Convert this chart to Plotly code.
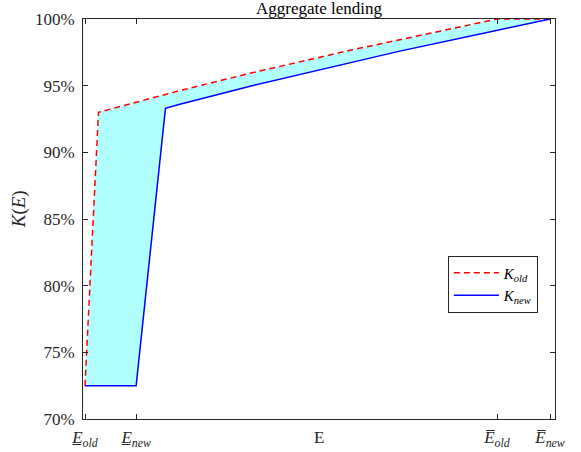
import plotly.graph_objects as go

# Data (x in normalized E units; y in percent)
k_old_x = [0.0, 0.029, 0.204, 0.355, 0.570, 0.677, 0.886, 1.0]
k_old_y = [72.5, 93.0, 94.63, 95.93, 97.65, 98.46, 100.0, 100.0]
k_new_x = [0.0, 0.11, 0.173, 0.204, 0.355, 0.570, 0.677, 0.892, 1.0]
k_new_y = [72.5, 72.5, 93.3, 93.6, 94.96, 96.74, 97.59, 99.2, 100.0]

xtick_vals = [0.0, 0.11, 0.886, 1.0]
xtick_text = ["<i>E\u0332</i><sub><i>old</i></sub>", "<i>E\u0332</i><sub><i>new</i></sub>",
              "<i>E\u0305</i><sub><i>old</i></sub>", "<i>E\u0305</i><sub><i>new</i></sub>"]
ytick_vals = [70, 75, 80, 85, 90, 95, 100]
ytick_text = [f"{v}%" for v in ytick_vals]

FONT = "Liberation Serif"

fig = go.Figure()
fig.add_trace(go.Scatter(
    x=k_old_x + k_new_x[::-1], y=k_old_y + k_new_y[::-1],
    fill="toself", fillcolor="#b2ffff", line=dict(width=0),
    mode="lines", showlegend=False, hoverinfo="skip"))
fig.add_trace(go.Scatter(
    x=k_old_x, y=k_old_y, mode="lines", name="<i>K</i><sub><i>old</i></sub>",
    line=dict(color="#ff0000", width=1.5, dash="6px,4px")))
fig.add_trace(go.Scatter(
    x=k_new_x, y=k_new_y, mode="lines", name="<i>K</i><sub><i>new</i></sub>",
    line=dict(color="#0000ff", width=1.5)))

axis_common = dict(showline=True, linecolor="#262626", linewidth=1, mirror="allticks",
                   ticks="inside", ticklen=5, tickcolor="#262626", showgrid=False,
                   zeroline=False, tickfont=dict(family=FONT, size=17, color="#262626"))

fig.update_xaxes(range=[-0.0043, 1.0107], tickmode="array", tickvals=xtick_vals,
                 ticktext=xtick_text, ticklabelstandoff=3, **axis_common)
fig.update_yaxes(range=[70, 100], tickmode="array", tickvals=ytick_vals,
                 ticktext=ytick_text, ticklabelstandoff=4, **axis_common)

fig.update_layout(
    width=581, height=452,
    margin=dict(l=83, r=26, t=19, b=33, autoexpand=False),
    paper_bgcolor="white", plot_bgcolor="white",
    font=dict(family=FONT, size=16, color="#262626"),
    title=dict(text="Aggregate lending", x=0.5, xref="paper", xanchor="center",
               y=1 - 8 / 452, yref="container", yanchor="middle",
               font=dict(family=FONT, size=17, color="black")),
    legend=dict(x=0.773, y=0.4085, xanchor="left", yanchor="top",
                bgcolor="white", bordercolor="#262626", borderwidth=1,
                font=dict(family=FONT, size=15, color="black"),
                tracegroupgap=0, itemwidth=45),
    annotations=[
        dict(text="E", xref="paper", yref="paper", x=0.5, y=-0.045,
             xanchor="center", yanchor="middle", showarrow=False,
             font=dict(family=FONT, size=17, color="#262626")),
        dict(text="<i>K</i>(<i>E</i>)", xref="paper", yref="paper", x=-0.135, y=0.525,
             xanchor="center", yanchor="middle", textangle=-90, showarrow=False,
             font=dict(family=FONT, size=19, color="#262626")),
    ],
)

fig.write_html("out.html")
